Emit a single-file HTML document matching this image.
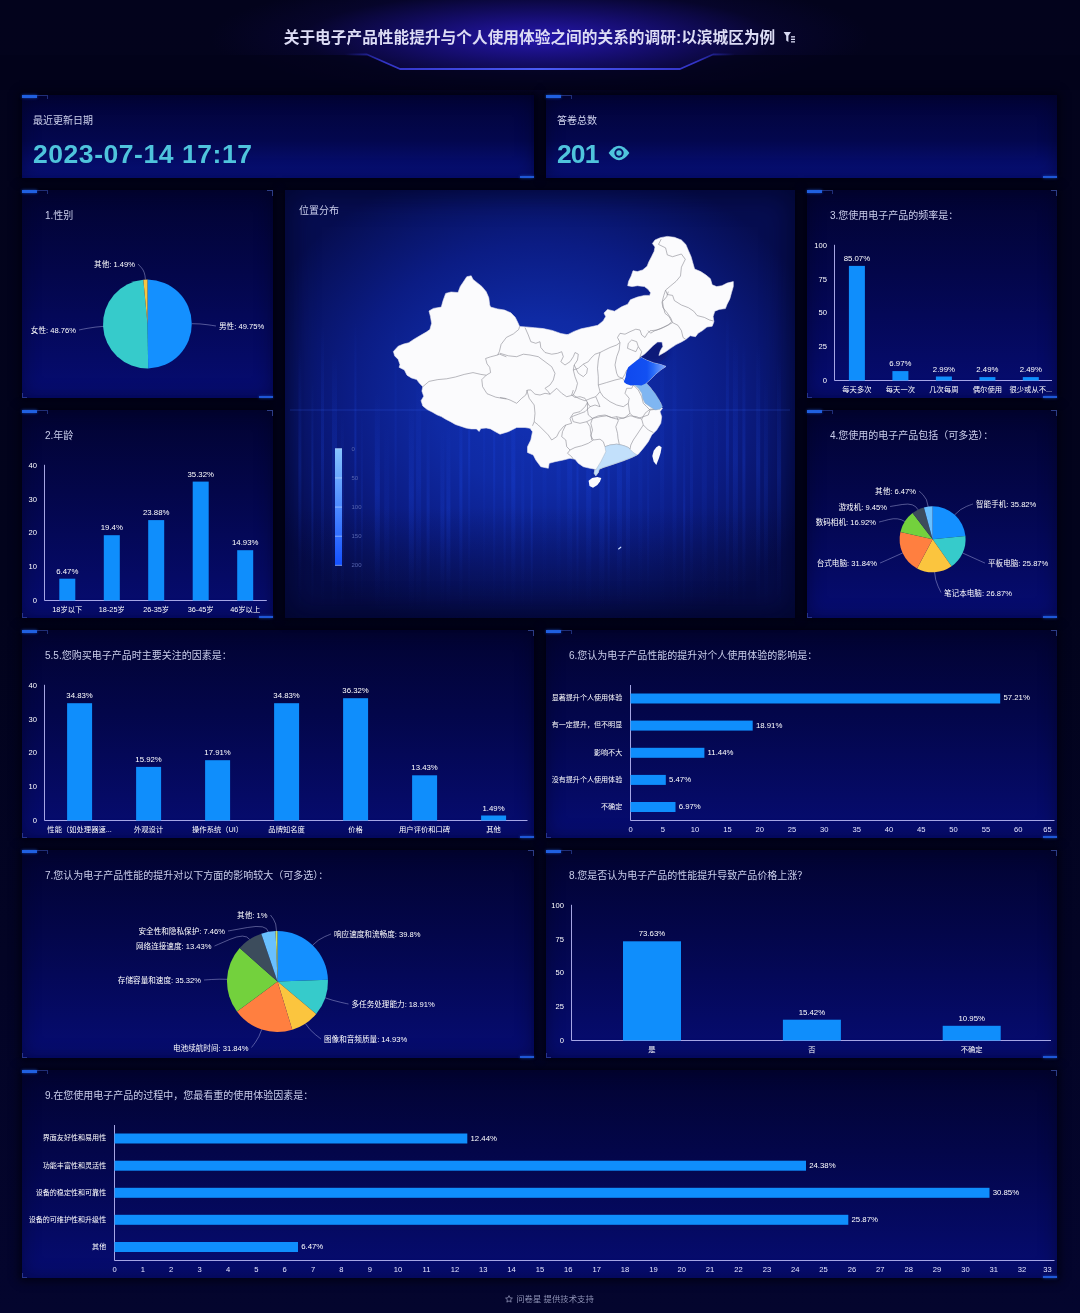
<!DOCTYPE html>
<html lang="zh-CN"><head><meta charset="utf-8"><title>关于电子产品性能提升与个人使用体验之间的关系的调研:以滨城区为例</title>
<style>
*{box-sizing:border-box;margin:0;padding:0}
html,body{width:1080px;height:1313px;overflow:hidden}
body{position:relative;background:#04052a;font-family:"Liberation Sans","Noto Sans CJK SC",sans-serif;color:#fff}
.bg{position:absolute;left:0;top:0;width:1080px;height:1313px;
 background:
  radial-gradient(ellipse 330px 64px at 540px 38px, rgba(40,24,186,.92), rgba(30,18,150,.6) 40%, rgba(16,10,84,.26) 72%, rgba(10,8,60,0) 100%),
  linear-gradient(to bottom,#03031c 0,#02031c 600px,#04052e 1313px)}
.hd{position:absolute;left:0;top:0;width:1080px;height:90px}
.title{position:absolute;left:0;top:24.5px;width:1059px;text-align:center;font-size:15.7px;font-weight:bold;color:#dcdcf4;letter-spacing:0;white-space:nowrap}
.panel{position:absolute;background:linear-gradient(to bottom,#020332 0%,#03064a 40%,#060c72 100%);box-shadow:0 0 8px 3px rgba(0,1,14,.8),inset 0 0 18px rgba(0,0,20,.45)}
.panel.map{background:linear-gradient(to bottom,rgba(4,8,56,0) 74%,rgba(4,8,56,.6) 100%),radial-gradient(ellipse 300px 250px at 50% 50%,#1232b6 0%,#0f2aa4 34%,#0b1c84 64%,#060d50 100%);box-shadow:0 0 8px 3px rgba(0,1,14,.8),inset 0 0 26px 6px rgba(2,4,40,.7)}
.panel.top{background:linear-gradient(to bottom,#020338 0%,#03074e 55%,#07107e 100%)}
.pt{position:absolute;white-space:nowrap;color:#c9cdea;line-height:16px}
.ch{position:absolute;left:0;top:0;overflow:visible}
.ch text{font-family:"Liberation Sans","Noto Sans CJK SC",sans-serif}
.c{position:absolute;display:block}
.c.tl{left:0;top:0;width:15px;height:2.5px;background:#2060e0;box-shadow:0 0 3px #1a48b8}
.c.tl2{left:15px;top:0;width:11px;height:4px;border-top:1px solid rgba(70,100,210,.45);border-right:1px solid rgba(70,100,210,.45)}
.c.tr{right:0;top:0;width:6px;height:6px;border-top:1px solid rgba(90,120,230,.5);border-right:1px solid rgba(90,120,230,.5)}
.c.bl{left:0;bottom:0;width:5px;height:5px;border-left:1px solid rgba(90,120,230,.4);border-bottom:1px solid rgba(90,120,230,.4)}
.c.br{right:0;bottom:0;width:14px;height:2.5px;background:#1f58d8;box-shadow:0 0 3px #1a48b8}
.lab{position:absolute;left:11px;top:17.7px;font-size:10px;color:#d0d4ee;line-height:16px}
.big{position:absolute;left:11px;top:41.7px;font-size:26.5px;font-weight:bold;color:#4fc4dc;line-height:34px;white-space:nowrap}
.foot{position:absolute;left:0;top:1291.5px;width:1099px;text-align:center;font-size:8.4px;color:#8f93b6;line-height:14px}
</style></head><body>
<div class="bg"></div>
<div class="hd">
<svg width="1080" height="90" viewBox="0 0 1080 90" style="position:absolute;left:0;top:0">
<defs><linearGradient id="hl" gradientUnits="userSpaceOnUse" x1="345" x2="735" y1="0" y2="0"><stop offset="0" stop-color="#3038d8" stop-opacity="0"/><stop offset=".1" stop-color="#3a3ce0" stop-opacity=".85"/><stop offset=".5" stop-color="#4a5cf4"/><stop offset=".9" stop-color="#3a3ce0" stop-opacity=".85"/><stop offset="1" stop-color="#3038d8" stop-opacity="0"/></linearGradient></defs>
<path d="M0,55 L0,90 L1080,90 L1080,55 L713,55 L680,69.5 L400,69.5 L367,55 Z" fill="#02031a" opacity=".78"/>
<path d="M345,54.5 H367 L400,69 H680 L713,54.5 H735" fill="none" stroke="url(#hl)" stroke-width="1.8" stroke-linejoin="round"/>
<g fill="#d8daf2"><path d="M783.6,32h7.4l-2.6,3.8v6.2l-2.2,-1.6v-4.6z"/><rect x="791" y="36.2" width="4" height="1.3"/><rect x="791" y="38.7" width="4" height="1.3"/><rect x="791" y="41.2" width="4" height="1.3"/></g>
</svg>
<div class="title">关于电子产品性能提升与个人使用体验之间的关系的调研:以滨城区为例</div>
</div>

<div class="panel top" style="left:22px;top:95px;width:512px;height:83px"><i class="c tl"></i><i class="c tl2"></i><i class="c br"></i><div class="lab">最近更新日期</div><div class="big" style="letter-spacing:.55px">2023-07-14 17:17</div></div>
<div class="panel top" style="left:546px;top:95px;width:511px;height:83px"><i class="c tl"></i><i class="c tl2"></i><i class="c br"></i><div class="lab">答卷总数</div><div class="big" style="letter-spacing:-.9px">201</div><svg style="position:absolute;left:62px;top:48.5px" width="22" height="18" viewBox="0 0 22 18"><path d="M0.6,9 Q11,-5.5 21.4,9 Q11,23.5 0.6,9Z" fill="#4fc4dc"/><circle cx="11" cy="9" r="4.7" fill="#061066"/><circle cx="11" cy="9" r="2.7" fill="#4fc4dc"/></svg></div>
<div class="panel " style="left:22px;top:190px;width:251px;height:208px">
<i class="c tl"></i><i class="c tl2"></i><i class="c tr"></i><i class="c bl"></i><i class="c br"></i>
<div class="pt" style="left:23px;top:17.5px;font-size:10px">1.性别</div>
<svg class="ch" width="251" height="208" viewBox="22 190 251 208"><path d="M147.5,324L147.50,279.50A44.5,44.5 0 0 1 148.20,368.49Z" fill="#1490ff"/>
<path d="M147.5,324L148.20,368.49A44.5,44.5 0 0 1 143.34,279.69Z" fill="#36cbcb"/>
<path d="M147.5,324L143.34,279.69A44.5,44.5 0 0 1 147.50,279.50Z" fill="#fbc53e"/>
<path d="M192.0,323.7Q200.0,323.6 208.0,324.8T216.0,326.0" fill="none" stroke="#c4c6f0" stroke-width="0.7" opacity="0.6"/>
<text x="219.0" y="329.0" font-size="7.6" text-anchor="start" fill="#fff">男性: 49.75%</text>
<path d="M103.1,326.4Q95.1,326.9 87.0,328.4T79.0,330.0" fill="none" stroke="#c4c6f0" stroke-width="0.7" opacity="0.6"/>
<text x="76.0" y="333.0" font-size="7.6" text-anchor="end" fill="#fff">女性: 48.76%</text>
<path d="M145.4,279.5Q145.0,271.6 141.5,267.8T138.0,264.0" fill="none" stroke="#c4c6f0" stroke-width="0.7" opacity="0.6"/>
<text x="135.0" y="267.0" font-size="7.6" text-anchor="end" fill="#fff">其他: 1.49%</text></svg>
</div>
<div class="panel " style="left:22px;top:410px;width:251px;height:208px">
<i class="c tl"></i><i class="c tl2"></i><i class="c tr"></i><i class="c bl"></i><i class="c br"></i>
<div class="pt" style="left:23px;top:17.5px;font-size:10px">2.年龄</div>
<svg class="ch" width="251" height="208" viewBox="22 410 251 208"><path d="M44.5,464.8V600.5H266.8" fill="none" stroke="#b8b8f4" stroke-width="0.9"/>
<text x="37.0" y="602.8" font-size="7.6" text-anchor="end" fill="#fff">0</text>
<text x="37.0" y="569.1" font-size="7.6" text-anchor="end" fill="#fff">10</text>
<text x="37.0" y="535.4" font-size="7.6" text-anchor="end" fill="#fff">20</text>
<text x="37.0" y="501.8" font-size="7.6" text-anchor="end" fill="#fff">30</text>
<text x="37.0" y="468.1" font-size="7.6" text-anchor="end" fill="#fff">40</text>
<rect x="59.3" y="578.7" width="16" height="21.8" fill="#0f8efc"/>
<text x="67.3" y="573.7" font-size="7.8" text-anchor="middle" fill="#fff">6.47%</text>
<text x="67.3" y="612.2" font-size="7.3" text-anchor="middle" fill="#fff">18岁以下</text>
<rect x="103.8" y="535.2" width="16" height="65.3" fill="#0f8efc"/>
<text x="111.8" y="530.2" font-size="7.8" text-anchor="middle" fill="#fff">19.4%</text>
<text x="111.8" y="612.2" font-size="7.3" text-anchor="middle" fill="#fff">18-25岁</text>
<rect x="148.2" y="520.1" width="16" height="80.4" fill="#0f8efc"/>
<text x="156.2" y="515.1" font-size="7.8" text-anchor="middle" fill="#fff">23.88%</text>
<text x="156.2" y="612.2" font-size="7.3" text-anchor="middle" fill="#fff">26-35岁</text>
<rect x="192.7" y="481.6" width="16" height="118.9" fill="#0f8efc"/>
<text x="200.7" y="476.6" font-size="7.8" text-anchor="middle" fill="#fff">35.32%</text>
<text x="200.7" y="612.2" font-size="7.3" text-anchor="middle" fill="#fff">36-45岁</text>
<rect x="237.2" y="550.2" width="16" height="50.3" fill="#0f8efc"/>
<text x="245.2" y="545.2" font-size="7.8" text-anchor="middle" fill="#fff">14.93%</text>
<text x="245.2" y="612.2" font-size="7.3" text-anchor="middle" fill="#fff">46岁以上</text></svg>
</div>
<div class="panel " style="left:807px;top:190px;width:250px;height:208px">
<i class="c tl"></i><i class="c tl2"></i><i class="c tr"></i><i class="c bl"></i><i class="c br"></i>
<div class="pt" style="left:23px;top:17.5px;font-size:10px">3.您使用电子产品的频率是：</div>
<svg class="ch" width="250" height="208" viewBox="807 190 250 208"><path d="M834.5,244.8V380.5H1052" fill="none" stroke="#b8b8f4" stroke-width="0.9"/>
<text x="827.0" y="382.8" font-size="7.6" text-anchor="end" fill="#fff">0</text>
<text x="827.0" y="349.1" font-size="7.6" text-anchor="end" fill="#fff">25</text>
<text x="827.0" y="315.4" font-size="7.6" text-anchor="end" fill="#fff">50</text>
<text x="827.0" y="281.8" font-size="7.6" text-anchor="end" fill="#fff">75</text>
<text x="827.0" y="248.1" font-size="7.6" text-anchor="end" fill="#fff">100</text>
<rect x="848.9" y="265.9" width="16" height="114.6" fill="#0f8efc"/>
<text x="856.9" y="260.9" font-size="7.8" text-anchor="middle" fill="#fff">85.07%</text>
<text x="856.9" y="392.2" font-size="7.3" text-anchor="middle" fill="#fff">每天多次</text>
<rect x="892.4" y="371.1" width="16" height="9.4" fill="#0f8efc"/>
<text x="900.4" y="366.1" font-size="7.8" text-anchor="middle" fill="#fff">6.97%</text>
<text x="900.4" y="392.2" font-size="7.3" text-anchor="middle" fill="#fff">每天一次</text>
<rect x="935.9" y="376.5" width="16" height="4.0" fill="#0f8efc"/>
<text x="943.9" y="371.5" font-size="7.8" text-anchor="middle" fill="#fff">2.99%</text>
<text x="943.9" y="392.2" font-size="7.3" text-anchor="middle" fill="#fff">几次每周</text>
<rect x="979.4" y="377.1" width="16" height="3.4" fill="#0f8efc"/>
<text x="987.4" y="372.1" font-size="7.8" text-anchor="middle" fill="#fff">2.49%</text>
<text x="987.4" y="392.2" font-size="7.3" text-anchor="middle" fill="#fff">偶尔使用</text>
<rect x="1022.8" y="377.1" width="16" height="3.4" fill="#0f8efc"/>
<text x="1030.8" y="372.1" font-size="7.8" text-anchor="middle" fill="#fff">2.49%</text>
<text x="1030.8" y="392.2" font-size="7.3" text-anchor="middle" fill="#fff">很少或从不...</text></svg>
</div>
<div class="panel " style="left:807px;top:410px;width:250px;height:208px">
<i class="c tl"></i><i class="c tl2"></i><i class="c tr"></i><i class="c bl"></i><i class="c br"></i>
<div class="pt" style="left:23px;top:17.5px;font-size:10px">4.您使用的电子产品包括（可多选）：</div>
<svg class="ch" width="250" height="208" viewBox="807 410 250 208"><path d="M932.6,539.3L932.60,506.30A33,33 0 0 1 965.43,535.94Z" fill="#1490ff"/>
<path d="M932.6,539.3L965.43,535.94A33,33 0 0 1 951.56,566.31Z" fill="#36cbcb"/>
<path d="M932.6,539.3L951.56,566.31A33,33 0 0 1 917.08,568.42Z" fill="#fbc53e"/>
<path d="M932.6,539.3L917.08,568.42A33,33 0 0 1 900.43,531.96Z" fill="#ff7f40"/>
<path d="M932.6,539.3L900.43,531.96A33,33 0 0 1 912.56,513.08Z" fill="#73d13d"/>
<path d="M932.6,539.3L912.56,513.08A33,33 0 0 1 923.95,507.45Z" fill="#3c4c5c"/>
<path d="M932.6,539.3L923.95,507.45A33,33 0 0 1 932.60,506.30Z" fill="#69c0ff"/>
<path d="M954.7,514.8Q960.1,508.9 966.5,506.4T973.0,504.0" fill="none" stroke="#c4c6f0" stroke-width="0.7" opacity="0.6"/>
<text x="976.0" y="507.0" font-size="7.6" text-anchor="start" fill="#fff">智能手机: 35.82%</text>
<path d="M962.6,553.0Q969.9,556.3 977.4,559.7T985.0,563.0" fill="none" stroke="#c4c6f0" stroke-width="0.7" opacity="0.6"/>
<text x="988.0" y="566.0" font-size="7.6" text-anchor="start" fill="#fff">平板电脑: 25.87%</text>
<path d="M934.6,572.2Q935.1,580.2 938.1,586.4T941.0,592.5" fill="none" stroke="#c4c6f0" stroke-width="0.7" opacity="0.6"/>
<text x="944.0" y="595.5" font-size="7.6" text-anchor="start" fill="#fff">笔记本电脑: 26.87%</text>
<path d="M902.6,553.0Q895.3,556.3 887.7,559.7T880.0,563.0" fill="none" stroke="#c4c6f0" stroke-width="0.7" opacity="0.6"/>
<text x="877.0" y="566.0" font-size="7.6" text-anchor="end" fill="#fff">台式电脑: 31.84%</text>
<path d="M904.8,521.5Q898.1,517.1 888.6,519.6T879.0,522.0" fill="none" stroke="#c4c6f0" stroke-width="0.7" opacity="0.6"/>
<text x="876.0" y="525.0" font-size="7.6" text-anchor="end" fill="#fff">数码相机: 16.92%</text>
<path d="M918.0,509.7Q914.4,502.5 902.2,504.5T890.0,506.5" fill="none" stroke="#c4c6f0" stroke-width="0.7" opacity="0.6"/>
<text x="887.0" y="509.5" font-size="7.6" text-anchor="end" fill="#fff">游戏机: 9.45%</text>
<path d="M928.2,506.6Q927.2,498.7 923.1,494.8T919.0,491.0" fill="none" stroke="#c4c6f0" stroke-width="0.7" opacity="0.6"/>
<text x="916.0" y="494.0" font-size="7.6" text-anchor="end" fill="#fff">其他: 6.47%</text></svg>
</div>
<div class="panel " style="left:22px;top:630px;width:512px;height:208px">
<i class="c tl"></i><i class="c tl2"></i><i class="c tr"></i><i class="c bl"></i><i class="c br"></i>
<div class="pt" style="left:23px;top:17.5px;font-size:10px">5.5.您购买电子产品时主要关注的因素是：</div>
<svg class="ch" width="512" height="208" viewBox="22 630 512 208"><path d="M44.5,684.8V820.5H527.5" fill="none" stroke="#b8b8f4" stroke-width="0.9"/>
<text x="37.0" y="822.8" font-size="7.6" text-anchor="end" fill="#fff">0</text>
<text x="37.0" y="789.1" font-size="7.6" text-anchor="end" fill="#fff">10</text>
<text x="37.0" y="755.4" font-size="7.6" text-anchor="end" fill="#fff">20</text>
<text x="37.0" y="721.8" font-size="7.6" text-anchor="end" fill="#fff">30</text>
<text x="37.0" y="688.1" font-size="7.6" text-anchor="end" fill="#fff">40</text>
<rect x="67.1" y="703.2" width="25" height="117.3" fill="#0f8efc"/>
<text x="79.6" y="698.2" font-size="7.8" text-anchor="middle" fill="#fff">34.83%</text>
<text x="79.6" y="832.2" font-size="7.3" text-anchor="middle" fill="#fff">性能（如处理器速...</text>
<rect x="136.1" y="766.9" width="25" height="53.6" fill="#0f8efc"/>
<text x="148.6" y="761.9" font-size="7.8" text-anchor="middle" fill="#fff">15.92%</text>
<text x="148.6" y="832.2" font-size="7.3" text-anchor="middle" fill="#fff">外观设计</text>
<rect x="205.1" y="760.2" width="25" height="60.3" fill="#0f8efc"/>
<text x="217.6" y="755.2" font-size="7.8" text-anchor="middle" fill="#fff">17.91%</text>
<text x="217.6" y="832.2" font-size="7.3" text-anchor="middle" fill="#fff">操作系统（UI）</text>
<rect x="274.1" y="703.2" width="25" height="117.3" fill="#0f8efc"/>
<text x="286.6" y="698.2" font-size="7.8" text-anchor="middle" fill="#fff">34.83%</text>
<text x="286.6" y="832.2" font-size="7.3" text-anchor="middle" fill="#fff">品牌知名度</text>
<rect x="343.1" y="698.2" width="25" height="122.3" fill="#0f8efc"/>
<text x="355.6" y="693.2" font-size="7.8" text-anchor="middle" fill="#fff">36.32%</text>
<text x="355.6" y="832.2" font-size="7.3" text-anchor="middle" fill="#fff">价格</text>
<rect x="412.1" y="775.3" width="25" height="45.2" fill="#0f8efc"/>
<text x="424.6" y="770.3" font-size="7.8" text-anchor="middle" fill="#fff">13.43%</text>
<text x="424.6" y="832.2" font-size="7.3" text-anchor="middle" fill="#fff">用户评价和口碑</text>
<rect x="481.1" y="815.5" width="25" height="5.0" fill="#0f8efc"/>
<text x="493.6" y="810.5" font-size="7.8" text-anchor="middle" fill="#fff">1.49%</text>
<text x="493.6" y="832.2" font-size="7.3" text-anchor="middle" fill="#fff">其他</text></svg>
</div>
<div class="panel " style="left:546px;top:630px;width:511px;height:208px">
<i class="c tl"></i><i class="c tl2"></i><i class="c tr"></i><i class="c bl"></i><i class="c br"></i>
<div class="pt" style="left:23px;top:17.5px;font-size:10px">6.您认为电子产品性能的提升对个人使用体验的影响是：</div>
<svg class="ch" width="511" height="208" viewBox="546 630 511 208"><path d="M630.5,685V820.5H1054.5" fill="none" stroke="#b8b8f4" stroke-width="0.9"/>
<text x="630.5" y="832.0" font-size="7.6" text-anchor="middle" fill="#e6e6ff">0</text>
<text x="662.8" y="832.0" font-size="7.6" text-anchor="middle" fill="#e6e6ff">5</text>
<text x="695.1" y="832.0" font-size="7.6" text-anchor="middle" fill="#e6e6ff">10</text>
<text x="727.4" y="832.0" font-size="7.6" text-anchor="middle" fill="#e6e6ff">15</text>
<text x="759.7" y="832.0" font-size="7.6" text-anchor="middle" fill="#e6e6ff">20</text>
<text x="792.0" y="832.0" font-size="7.6" text-anchor="middle" fill="#e6e6ff">25</text>
<text x="824.3" y="832.0" font-size="7.6" text-anchor="middle" fill="#e6e6ff">30</text>
<text x="856.7" y="832.0" font-size="7.6" text-anchor="middle" fill="#e6e6ff">35</text>
<text x="889.0" y="832.0" font-size="7.6" text-anchor="middle" fill="#e6e6ff">40</text>
<text x="921.3" y="832.0" font-size="7.6" text-anchor="middle" fill="#e6e6ff">45</text>
<text x="953.6" y="832.0" font-size="7.6" text-anchor="middle" fill="#e6e6ff">50</text>
<text x="985.9" y="832.0" font-size="7.6" text-anchor="middle" fill="#e6e6ff">55</text>
<text x="1018.2" y="832.0" font-size="7.6" text-anchor="middle" fill="#e6e6ff">60</text>
<text x="1047.5" y="832.0" font-size="7.6" text-anchor="middle" fill="#e6e6ff">65</text>
<rect x="630.5" y="693.5" width="369.7" height="10" fill="#0f8efc"/>
<text x="1003.4" y="700.4" font-size="7.8" text-anchor="start" fill="#fff">57.21%</text>
<text x="622.2" y="700.3" font-size="7.05" text-anchor="end" fill="#fff">显著提升个人使用体验</text>
<rect x="630.5" y="720.6" width="122.2" height="10" fill="#0f8efc"/>
<text x="755.9" y="727.5" font-size="7.8" text-anchor="start" fill="#fff">18.91%</text>
<text x="622.2" y="727.4" font-size="7.05" text-anchor="end" fill="#fff">有一定提升，但不明显</text>
<rect x="630.5" y="747.8" width="73.9" height="10" fill="#0f8efc"/>
<text x="707.6" y="754.6" font-size="7.8" text-anchor="start" fill="#fff">11.44%</text>
<text x="622.2" y="754.5" font-size="7.05" text-anchor="end" fill="#fff">影响不大</text>
<rect x="630.5" y="774.9" width="35.3" height="10" fill="#0f8efc"/>
<text x="669.0" y="781.8" font-size="7.8" text-anchor="start" fill="#fff">5.47%</text>
<text x="622.2" y="781.6" font-size="7.05" text-anchor="end" fill="#fff">没有提升个人使用体验</text>
<rect x="630.5" y="802.0" width="45.0" height="10" fill="#0f8efc"/>
<text x="678.7" y="808.9" font-size="7.8" text-anchor="start" fill="#fff">6.97%</text>
<text x="622.2" y="808.8" font-size="7.05" text-anchor="end" fill="#fff">不确定</text></svg>
</div>
<div class="panel " style="left:22px;top:850px;width:512px;height:208px">
<i class="c tl"></i><i class="c tl2"></i><i class="c tr"></i><i class="c bl"></i><i class="c br"></i>
<div class="pt" style="left:23px;top:17.5px;font-size:10px">7.您认为电子产品性能的提升对以下方面的影响较大（可多选）：</div>
<svg class="ch" width="512" height="208" viewBox="22 850 512 208"><path d="M277.5,981.5L277.50,931.00A50.5,50.5 0 0 1 327.97,979.80Z" fill="#1490ff"/>
<path d="M277.5,981.5L327.97,979.80A50.5,50.5 0 0 1 316.23,1013.90Z" fill="#36cbcb"/>
<path d="M277.5,981.5L316.23,1013.90A50.5,50.5 0 0 1 292.31,1029.78Z" fill="#fbc53e"/>
<path d="M277.5,981.5L292.31,1029.78A50.5,50.5 0 0 1 236.95,1011.61Z" fill="#ff7f40"/>
<path d="M277.5,981.5L236.95,1011.61A50.5,50.5 0 0 1 239.71,948.00Z" fill="#73d13d"/>
<path d="M277.5,981.5L239.71,948.00A50.5,50.5 0 0 1 261.29,933.67Z" fill="#3c4c5c"/>
<path d="M277.5,981.5L261.29,933.67A50.5,50.5 0 0 1 275.55,931.04Z" fill="#69c0ff"/>
<path d="M277.5,981.5L275.55,931.04A50.5,50.5 0 0 1 277.50,931.00Z" fill="#d4e157"/>
<path d="M312.6,945.2Q318.2,939.4 324.6,936.7T331.0,934.0" fill="none" stroke="#c4c6f0" stroke-width="0.7" opacity="0.6"/>
<text x="334.0" y="937.0" font-size="7.6" text-anchor="start" fill="#fff">响应速度和流畅度: 39.8%</text>
<path d="M325.3,997.9Q332.8,1000.5 340.7,1002.3T348.5,1004.0" fill="none" stroke="#c4c6f0" stroke-width="0.7" opacity="0.6"/>
<text x="351.5" y="1007.0" font-size="7.6" text-anchor="start" fill="#fff">多任务处理能力: 18.91%</text>
<path d="M305.4,1023.6Q309.8,1030.2 315.4,1034.6T321.0,1039.0" fill="none" stroke="#c4c6f0" stroke-width="0.7" opacity="0.6"/>
<text x="324.0" y="1042.0" font-size="7.6" text-anchor="start" fill="#fff">图像和音频质量: 14.93%</text>
<path d="M261.7,1029.5Q259.2,1037.1 255.4,1042.3T251.5,1047.5" fill="none" stroke="#c4c6f0" stroke-width="0.7" opacity="0.6"/>
<text x="248.5" y="1050.5" font-size="7.6" text-anchor="end" fill="#fff">电池续航时间: 31.84%</text>
<path d="M227.0,979.3Q219.1,979.0 211.5,979.5T204.0,980.0" fill="none" stroke="#c4c6f0" stroke-width="0.7" opacity="0.6"/>
<text x="201.0" y="983.0" font-size="7.6" text-anchor="end" fill="#fff">存储容量和速度: 35.32%</text>
<path d="M249.6,939.4Q245.1,932.8 229.8,939.4T214.5,946.0" fill="none" stroke="#c4c6f0" stroke-width="0.7" opacity="0.6"/>
<text x="211.5" y="949.0" font-size="7.6" text-anchor="end" fill="#fff">网络连接速度: 13.43%</text>
<path d="M268.3,931.8Q266.9,924.0 247.4,927.5T228.0,931.0" fill="none" stroke="#c4c6f0" stroke-width="0.7" opacity="0.6"/>
<text x="225.0" y="934.0" font-size="7.6" text-anchor="end" fill="#fff">安全性和隐私保护: 7.46%</text>
<path d="M276.5,931.0Q276.4,923.0 273.4,919.0T270.5,915.0" fill="none" stroke="#c4c6f0" stroke-width="0.7" opacity="0.6"/>
<text x="267.5" y="918.0" font-size="7.6" text-anchor="end" fill="#fff">其他: 1%</text></svg>
</div>
<div class="panel " style="left:546px;top:850px;width:511px;height:208px">
<i class="c tl"></i><i class="c tl2"></i><i class="c tr"></i><i class="c bl"></i><i class="c br"></i>
<div class="pt" style="left:23px;top:17.5px;font-size:10px">8.您是否认为电子产品的性能提升导致产品价格上涨？</div>
<svg class="ch" width="511" height="208" viewBox="546 850 511 208"><path d="M571.5,904.8V1040.5H1051" fill="none" stroke="#b8b8f4" stroke-width="0.9"/>
<text x="564.0" y="1042.8" font-size="7.6" text-anchor="end" fill="#fff">0</text>
<text x="564.0" y="1009.1" font-size="7.6" text-anchor="end" fill="#fff">25</text>
<text x="564.0" y="975.4" font-size="7.6" text-anchor="end" fill="#fff">50</text>
<text x="564.0" y="941.8" font-size="7.6" text-anchor="end" fill="#fff">75</text>
<text x="564.0" y="908.1" font-size="7.6" text-anchor="end" fill="#fff">100</text>
<rect x="623.0" y="941.3" width="58" height="99.2" fill="#0f8efc"/>
<text x="652.0" y="936.3" font-size="7.8" text-anchor="middle" fill="#fff">73.63%</text>
<text x="652.0" y="1052.2" font-size="7.3" text-anchor="middle" fill="#fff">是</text>
<rect x="782.9" y="1019.7" width="58" height="20.8" fill="#0f8efc"/>
<text x="811.9" y="1014.7" font-size="7.8" text-anchor="middle" fill="#fff">15.42%</text>
<text x="811.9" y="1052.2" font-size="7.3" text-anchor="middle" fill="#fff">否</text>
<rect x="942.7" y="1025.8" width="58" height="14.7" fill="#0f8efc"/>
<text x="971.7" y="1020.8" font-size="7.8" text-anchor="middle" fill="#fff">10.95%</text>
<text x="971.7" y="1052.2" font-size="7.3" text-anchor="middle" fill="#fff">不确定</text></svg>
</div>
<div class="panel " style="left:22px;top:1070px;width:1035px;height:208px">
<i class="c tl"></i><i class="c tl2"></i><i class="c tr"></i><i class="c bl"></i><i class="c br"></i>
<div class="pt" style="left:23px;top:17.5px;font-size:10px">9.在您使用电子产品的过程中，您最看重的使用体验因素是：</div>
<svg class="ch" width="1035" height="208" viewBox="22 1070 1035 208"><path d="M114.5,1125V1260.5H1054.5" fill="none" stroke="#b8b8f4" stroke-width="0.9"/>
<text x="114.5" y="1272.0" font-size="7.6" text-anchor="middle" fill="#e6e6ff">0</text>
<text x="142.9" y="1272.0" font-size="7.6" text-anchor="middle" fill="#e6e6ff">1</text>
<text x="171.2" y="1272.0" font-size="7.6" text-anchor="middle" fill="#e6e6ff">2</text>
<text x="199.6" y="1272.0" font-size="7.6" text-anchor="middle" fill="#e6e6ff">3</text>
<text x="228.0" y="1272.0" font-size="7.6" text-anchor="middle" fill="#e6e6ff">4</text>
<text x="256.3" y="1272.0" font-size="7.6" text-anchor="middle" fill="#e6e6ff">5</text>
<text x="284.7" y="1272.0" font-size="7.6" text-anchor="middle" fill="#e6e6ff">6</text>
<text x="313.0" y="1272.0" font-size="7.6" text-anchor="middle" fill="#e6e6ff">7</text>
<text x="341.4" y="1272.0" font-size="7.6" text-anchor="middle" fill="#e6e6ff">8</text>
<text x="369.8" y="1272.0" font-size="7.6" text-anchor="middle" fill="#e6e6ff">9</text>
<text x="398.1" y="1272.0" font-size="7.6" text-anchor="middle" fill="#e6e6ff">10</text>
<text x="426.5" y="1272.0" font-size="7.6" text-anchor="middle" fill="#e6e6ff">11</text>
<text x="454.9" y="1272.0" font-size="7.6" text-anchor="middle" fill="#e6e6ff">12</text>
<text x="483.2" y="1272.0" font-size="7.6" text-anchor="middle" fill="#e6e6ff">13</text>
<text x="511.6" y="1272.0" font-size="7.6" text-anchor="middle" fill="#e6e6ff">14</text>
<text x="540.0" y="1272.0" font-size="7.6" text-anchor="middle" fill="#e6e6ff">15</text>
<text x="568.3" y="1272.0" font-size="7.6" text-anchor="middle" fill="#e6e6ff">16</text>
<text x="596.7" y="1272.0" font-size="7.6" text-anchor="middle" fill="#e6e6ff">17</text>
<text x="625.0" y="1272.0" font-size="7.6" text-anchor="middle" fill="#e6e6ff">18</text>
<text x="653.4" y="1272.0" font-size="7.6" text-anchor="middle" fill="#e6e6ff">19</text>
<text x="681.8" y="1272.0" font-size="7.6" text-anchor="middle" fill="#e6e6ff">20</text>
<text x="710.1" y="1272.0" font-size="7.6" text-anchor="middle" fill="#e6e6ff">21</text>
<text x="738.5" y="1272.0" font-size="7.6" text-anchor="middle" fill="#e6e6ff">22</text>
<text x="766.9" y="1272.0" font-size="7.6" text-anchor="middle" fill="#e6e6ff">23</text>
<text x="795.2" y="1272.0" font-size="7.6" text-anchor="middle" fill="#e6e6ff">24</text>
<text x="823.6" y="1272.0" font-size="7.6" text-anchor="middle" fill="#e6e6ff">25</text>
<text x="852.0" y="1272.0" font-size="7.6" text-anchor="middle" fill="#e6e6ff">26</text>
<text x="880.3" y="1272.0" font-size="7.6" text-anchor="middle" fill="#e6e6ff">27</text>
<text x="908.7" y="1272.0" font-size="7.6" text-anchor="middle" fill="#e6e6ff">28</text>
<text x="937.0" y="1272.0" font-size="7.6" text-anchor="middle" fill="#e6e6ff">29</text>
<text x="965.4" y="1272.0" font-size="7.6" text-anchor="middle" fill="#e6e6ff">30</text>
<text x="993.8" y="1272.0" font-size="7.6" text-anchor="middle" fill="#e6e6ff">31</text>
<text x="1022.1" y="1272.0" font-size="7.6" text-anchor="middle" fill="#e6e6ff">32</text>
<text x="1047.5" y="1272.0" font-size="7.6" text-anchor="middle" fill="#e6e6ff">33</text>
<rect x="114.5" y="1133.5" width="352.8" height="10" fill="#0f8efc"/>
<text x="470.5" y="1140.5" font-size="7.8" text-anchor="start" fill="#fff">12.44%</text>
<text x="106.2" y="1140.3" font-size="7.05" text-anchor="end" fill="#fff">界面友好性和易用性</text>
<rect x="114.5" y="1160.7" width="691.5" height="10" fill="#0f8efc"/>
<text x="809.2" y="1167.6" font-size="7.8" text-anchor="start" fill="#fff">24.38%</text>
<text x="106.2" y="1167.5" font-size="7.05" text-anchor="end" fill="#fff">功能丰富性和灵活性</text>
<rect x="114.5" y="1187.8" width="875.0" height="10" fill="#0f8efc"/>
<text x="992.7" y="1194.7" font-size="7.8" text-anchor="start" fill="#fff">30.85%</text>
<text x="106.2" y="1194.5" font-size="7.05" text-anchor="end" fill="#fff">设备的稳定性和可靠性</text>
<rect x="114.5" y="1214.8" width="733.8" height="10" fill="#0f8efc"/>
<text x="851.5" y="1221.8" font-size="7.8" text-anchor="start" fill="#fff">25.87%</text>
<text x="106.2" y="1221.6" font-size="7.05" text-anchor="end" fill="#fff">设备的可维护性和升级性</text>
<rect x="114.5" y="1242.0" width="183.5" height="10" fill="#0f8efc"/>
<text x="301.2" y="1248.9" font-size="7.8" text-anchor="start" fill="#fff">6.47%</text>
<text x="106.2" y="1248.8" font-size="7.05" text-anchor="end" fill="#fff">其他</text></svg>
</div>
<div class="panel map" style="left:285px;top:190px;width:510px;height:428px">
<div class="pt" style="left:14px;top:13.0px;font-size:10px">位置分布</div>
<svg class="ch" width="510" height="428" viewBox="285 190 510 428"><defs><linearGradient id="vm" x1="0" y1="0" x2="0" y2="1"><stop offset="0" stop-color="#86c4ff"/><stop offset="1" stop-color="#1450ff"/></linearGradient><filter id="bl" x="-50%" y="-50%" width="200%" height="200%"><feGaussianBlur stdDeviation="2.5"/></filter><linearGradient id="sd" x1="0" y1="0" x2="1" y2="0"><stop offset="0" stop-color="#0f48ee"/><stop offset=".55" stop-color="#1250f2"/><stop offset=".7" stop-color="#2a6cf8"/><stop offset="1" stop-color="#2a6cf8" stop-opacity=".55"/></linearGradient><linearGradient id="st" x1="0" y1="0" x2="0" y2="1"><stop offset="0" stop-color="#1c4cf0" stop-opacity="0"/><stop offset=".45" stop-color="#1c4cf0" stop-opacity=".3"/><stop offset=".85" stop-color="#1c4cf0" stop-opacity=".04"/><stop offset="1" stop-color="#1c4cf0" stop-opacity="0"/></linearGradient></defs>
<rect x="298.4" y="348" width="3" height="262" fill="url(#st)" opacity="0.58"/>
<rect x="311.4" y="379" width="2" height="231" fill="url(#st)" opacity="0.75"/>
<rect x="321.0" y="325" width="3" height="285" fill="url(#st)" opacity="0.64"/>
<rect x="332.0" y="352" width="5" height="258" fill="url(#st)" opacity="0.72"/>
<rect x="340.8" y="413" width="3" height="197" fill="url(#st)" opacity="0.54"/>
<rect x="354.4" y="321" width="2" height="289" fill="url(#st)" opacity="0.78"/>
<rect x="360.9" y="407" width="2" height="203" fill="url(#st)" opacity="0.40"/>
<rect x="374.8" y="393" width="5" height="217" fill="url(#st)" opacity="0.76"/>
<rect x="384.2" y="425" width="5" height="185" fill="url(#st)" opacity="0.32"/>
<rect x="394.6" y="318" width="2" height="292" fill="url(#st)" opacity="0.37"/>
<rect x="408.8" y="401" width="5" height="209" fill="url(#st)" opacity="0.72"/>
<rect x="416.1" y="375" width="5" height="235" fill="url(#st)" opacity="0.54"/>
<rect x="426.6" y="418" width="3" height="192" fill="url(#st)" opacity="0.63"/>
<rect x="440.4" y="429" width="4" height="181" fill="url(#st)" opacity="0.62"/>
<rect x="446.4" y="425" width="4" height="185" fill="url(#st)" opacity="0.75"/>
<rect x="459.4" y="382" width="3" height="228" fill="url(#st)" opacity="0.79"/>
<rect x="468.2" y="308" width="2" height="302" fill="url(#st)" opacity="0.72"/>
<rect x="483.1" y="345" width="2" height="265" fill="url(#st)" opacity="0.29"/>
<rect x="493.2" y="338" width="2" height="272" fill="url(#st)" opacity="0.67"/>
<rect x="503.6" y="379" width="2" height="231" fill="url(#st)" opacity="0.67"/>
<rect x="511.3" y="372" width="4" height="238" fill="url(#st)" opacity="0.76"/>
<rect x="521.3" y="430" width="3" height="180" fill="url(#st)" opacity="0.42"/>
<rect x="530.7" y="423" width="2" height="187" fill="url(#st)" opacity="0.78"/>
<rect x="542.5" y="320" width="4" height="290" fill="url(#st)" opacity="0.27"/>
<rect x="556.6" y="347" width="4" height="263" fill="url(#st)" opacity="0.33"/>
<rect x="567.2" y="360" width="5" height="250" fill="url(#st)" opacity="0.54"/>
<rect x="576.5" y="381" width="2" height="229" fill="url(#st)" opacity="0.77"/>
<rect x="586.2" y="382" width="5" height="228" fill="url(#st)" opacity="0.64"/>
<rect x="599.4" y="427" width="5" height="183" fill="url(#st)" opacity="0.54"/>
<rect x="607.7" y="402" width="2" height="208" fill="url(#st)" opacity="0.79"/>
<rect x="616.9" y="380" width="5" height="230" fill="url(#st)" opacity="0.60"/>
<rect x="626.0" y="361" width="4" height="249" fill="url(#st)" opacity="0.62"/>
<rect x="638.3" y="396" width="4" height="214" fill="url(#st)" opacity="0.26"/>
<rect x="647.2" y="425" width="2" height="185" fill="url(#st)" opacity="0.39"/>
<rect x="660.1" y="323" width="4" height="287" fill="url(#st)" opacity="0.35"/>
<rect x="672.5" y="339" width="4" height="271" fill="url(#st)" opacity="0.46"/>
<rect x="683.2" y="426" width="2" height="184" fill="url(#st)" opacity="0.63"/>
<rect x="690.0" y="385" width="3" height="225" fill="url(#st)" opacity="0.40"/>
<rect x="701.8" y="384" width="5" height="226" fill="url(#st)" opacity="0.30"/>
<rect x="714.0" y="388" width="4" height="222" fill="url(#st)" opacity="0.37"/>
<rect x="725.9" y="310" width="3" height="300" fill="url(#st)" opacity="0.66"/>
<rect x="732.9" y="335" width="5" height="275" fill="url(#st)" opacity="0.68"/>
<rect x="742.4" y="341" width="3" height="269" fill="url(#st)" opacity="0.71"/>
<rect x="756.2" y="344" width="4" height="266" fill="url(#st)" opacity="0.71"/>
<rect x="763.9" y="377" width="4" height="233" fill="url(#st)" opacity="0.48"/>
<rect x="777.1" y="360" width="4" height="250" fill="url(#st)" opacity="0.60"/>
<rect x="290" y="409.5" width="500" height="1" fill="#3a6cff" opacity=".25"/>
<ellipse cx="653" cy="352" rx="15" ry="11" fill="#08186e" opacity=".75" filter="url(#bl)"/>
<polygon points="393.4,351.5 398.2,346.2 403.5,344.1 408.8,342.7 414.0,339.2 420.2,335.6 426.3,332.1 429.9,329.5 431.6,323.3 430.4,316.3 429.0,311.0 433.4,308.4 441.3,307.1 443.1,300.5 445.7,293.4 451.0,292.0 458.0,292.5 460.3,286.4 463.3,282.0 466.8,276.7 471.2,275.8 473.0,279.4 477.4,282.9 481.8,286.4 486.2,291.7 488.8,297.8 489.7,304.9 490.6,307.1 497.6,308.9 504.6,310.1 510.8,312.8 515.2,317.2 517.8,322.5 519.6,326.5 525.7,326.9 534.5,327.7 543.3,328.6 552.1,330.4 560.9,333.5 568.0,334.8 567.0,335.0 574.1,331.4 581.1,328.8 589.9,327.0 597.8,325.3 603.1,320.9 605.7,316.5 604.0,313.0 607.5,309.4 614.5,311.2 621.6,306.8 627.7,304.2 630.4,299.8 637.4,297.1 644.4,295.4 649.7,295.4 650.6,292.7 648.0,289.2 644.4,286.6 637.4,285.7 632.1,286.6 627.7,285.7 628.6,281.3 631.2,276.0 633.0,270.7 637.4,271.6 642.7,269.9 647.1,266.3 648.8,261.9 651.5,256.7 654.1,251.4 655.0,247.0 652.4,243.5 655.0,240.0 660.3,237.7 667.3,236.4 674.4,237.3 681.4,240.0 685.8,244.4 688.4,250.5 691.1,256.7 692.8,262.8 694.6,269.0 700.7,271.6 706.0,275.1 710.4,278.7 712.2,284.8 716.6,286.6 721.9,285.7 727.1,283.1 733.3,281.6 733.3,286.6 731.5,292.7 729.8,298.9 727.1,304.2 725.4,308.6 719.2,309.4 714.8,311.2 713.1,316.5 713.9,321.8 712.2,326.2 706.9,327.0 702.5,330.6 698.1,333.2 695.5,336.7 690.2,335.8 685.8,339.4 681.4,342.0 676.1,344.6 670.8,348.1 665.6,351.7 661.2,354.3 658.9,355.5 660.3,350.8 662.9,346.4 662.0,342.0 657.6,342.0 653.2,345.5 648.8,349.9 644.4,354.3 640.0,356.9 638.3,359.6 634.8,362.2 630.4,365.7 641.4,357.6 646.7,360.2 653.7,362.9 660.7,364.6 666.0,366.4 660.7,369.9 655.5,374.3 650.2,379.6 645.8,383.6 650.2,387.5 653.7,392.8 657.2,398.1 660.7,403.3 661.6,407.7 662.5,408.3 660.0,411.7 661.7,416.7 660.8,423.3 656.7,430.0 651.7,435.0 648.3,441.7 643.3,448.3 638.3,454.2 631.7,457.5 623.3,460.8 613.3,464.2 603.3,467.5 599.2,469.2 598.3,472.5 595.8,475.8 594.2,473.3 595.0,469.2 590.0,468.3 583.3,466.7 578.3,463.3 575.0,459.2 570.0,458.3 563.3,460.0 555.0,461.7 549.2,463.3 548.3,468.3 540.8,466.7 535.8,460.0 533.3,455.0 527.5,452.5 527.5,446.7 530.8,440.0 532.5,431.7 530.0,428.3 525.0,427.5 516.7,427.5 508.3,431.7 500.0,434.2 495.0,431.5 490.6,428.9 486.2,428.0 480.9,428.5 479.1,431.5 476.5,428.9 471.2,428.9 465.9,428.0 460.6,426.2 455.4,424.5 451.0,421.9 445.7,419.2 441.3,416.6 436.9,414.8 432.5,412.2 427.2,409.5 422.8,406.0 421.1,400.7 423.7,396.3 421.9,391.1 422.8,386.7 419.3,383.1 416.7,379.6 411.4,377.9 407.0,375.2 404.4,370.0 399.1,367.3 400.0,364.7 398.2,359.4 394.7,355.9 393.4,351.5" fill="#fbfbfd" stroke="#e8e8f0" stroke-width="0.6" stroke-linejoin="round"/>
<polygon points="588.6,480.7 592.1,478.1 597.4,476.9 601.3,478.1 600.0,481.6 597.4,485.1 593.0,487.8 589.5,486.0" fill="#fbfbfd"/>
<polygon points="659.0,445.6 661.6,447.3 660.7,452.6 659.0,457.9 656.3,464.9 653.7,461.4 652.3,456.1 653.7,450.8 656.3,447.3" fill="#fbfbfd"/>
<polyline points="422.8,386.7 429.0,381.4 437.8,379.6 446.6,378.8 455.4,377.0 464.2,374.4 473.0,372.6 480.9,374.4 486.2,375.2" fill="none" stroke="#8a8a92" stroke-width="0.6" stroke-linejoin="round"/>
<polyline points="486.2,375.2 490.6,372.6 489.7,367.3 487.0,363.8 485.6,358.5 490.6,356.8 497.6,355.0 499.4,351.5 501.1,344.4 506.4,337.4 513.4,333.9 518.7,329.5 519.6,326.5" fill="none" stroke="#8a8a92" stroke-width="0.6" stroke-linejoin="round"/>
<polyline points="486.2,375.2 481.8,379.6 482.6,386.7 487.0,393.7 495.8,397.2 506.4,399.0" fill="none" stroke="#8a8a92" stroke-width="0.6" stroke-linejoin="round"/>
<polyline points="506.4,356.8 499.4,354.1 497.6,355.0" fill="none" stroke="#8a8a92" stroke-width="0.6" stroke-linejoin="round"/>
<polyline points="525.0,327.5 528.3,335.0 530.8,341.7 535.8,343.3 540.0,341.7 540.8,347.5 545.0,352.5 551.7,354.2 557.5,353.3 561.7,351.7 563.3,356.7 560.8,361.7 565.0,365.0 570.0,361.7 573.3,356.7 575.0,352.5 578.3,354.2 577.5,360.0 574.2,365.0 573.3,370.0 578.3,368.3 583.3,364.2 588.3,361.7 590.8,358.3 595.0,354.2 600.0,352.5 603.3,350.8 610.0,347.5 616.7,345.0 620.0,342.5 617.5,337.5 620.0,333.3 625.0,334.2 630.0,331.7 635.8,329.2 640.0,330.0 641.7,335.0 645.0,337.5 647.5,333.3 650.0,330.8 656.7,330.0 663.3,327.5 668.3,325.0 671.7,321.7 669.2,316.7 665.0,313.3 663.3,306.7 662.5,301.7 666.7,296.7 668.3,291.7" fill="none" stroke="#8a8a92" stroke-width="0.6" stroke-linejoin="round"/>
<polyline points="500.0,353.3 508.3,355.8 516.7,356.7 523.3,354.2 530.0,355.0 538.3,356.7 545.0,361.7 551.7,366.7 555.0,373.3 553.3,380.0 550.0,385.0 545.0,388.3 548.3,391.7 550.0,394.2 545.0,393.3 540.0,395.0 535.0,394.2 530.8,390.0 527.5,390.0 525.8,395.0 521.7,398.3 516.7,403.3 510.0,400.0 505.0,398.3 500.0,397.5" fill="none" stroke="#8a8a92" stroke-width="0.6" stroke-linejoin="round"/>
<polyline points="550.0,394.2 556.7,388.3 561.7,393.3 566.7,396.7 573.3,395.0 578.3,398.3 585.0,400.8 590.8,398.3 595.8,396.7" fill="none" stroke="#8a8a92" stroke-width="0.6" stroke-linejoin="round"/>
<polyline points="586.7,401.7 590.0,406.7 585.0,411.7 578.3,414.2 571.7,416.7 573.3,421.7 580.0,423.3 586.7,421.7 590.0,426.7 590.8,433.3 591.7,440.0" fill="none" stroke="#8a8a92" stroke-width="0.6" stroke-linejoin="round"/>
<polyline points="573.3,370.0 575.0,376.7 577.5,383.3 575.8,390.0 573.3,395.0" fill="none" stroke="#8a8a92" stroke-width="0.6" stroke-linejoin="round"/>
<polyline points="600.0,352.5 598.3,360.0 597.5,368.3 598.3,376.7 598.3,385.0 600.0,391.7 595.8,396.7 600.0,406.7 595.0,405.0 590.0,406.7" fill="none" stroke="#8a8a92" stroke-width="0.6" stroke-linejoin="round"/>
<polyline points="574.2,365.0 578.3,373.3 583.3,376.7 586.7,373.3 587.5,368.3 583.3,364.2" fill="none" stroke="#8a8a92" stroke-width="0.6" stroke-linejoin="round"/>
<polyline points="620.0,342.5 619.2,350.0 616.7,356.7 615.0,365.0 616.7,373.3 618.3,376.7 622.5,378.3" fill="none" stroke="#8a8a92" stroke-width="0.6" stroke-linejoin="round"/>
<polyline points="598.3,385.0 606.7,382.5 615.0,380.0 622.5,378.3 625.0,374.2 626.7,370.0 631.7,365.8 638.3,360.0 640.8,356.7" fill="none" stroke="#8a8a92" stroke-width="0.6" stroke-linejoin="round"/>
<polyline points="628.3,343.3 631.7,340.0 636.7,341.7 638.3,346.7 635.8,351.7 631.7,350.0 627.5,348.3 628.3,343.3" fill="none" stroke="#8a8a92" stroke-width="0.6" stroke-linejoin="round"/>
<polyline points="638.3,346.7 641.7,351.7 640.0,356.7" fill="none" stroke="#8a8a92" stroke-width="0.6" stroke-linejoin="round"/>
<polyline points="600.0,391.7 603.3,396.7 610.0,401.7 616.7,405.0 623.3,406.7 628.3,403.3 629.2,398.3 625.0,393.3 626.7,388.3 631.7,388.3 633.3,385.0 628.3,383.3 624.2,380.8 622.5,378.3" fill="none" stroke="#8a8a92" stroke-width="0.6" stroke-linejoin="round"/>
<polyline points="633.3,385.0 638.3,390.0 641.7,396.7 643.3,403.3 646.7,406.7 650.0,410.0 648.3,415.0 643.3,416.7 638.3,418.3 633.3,416.7 630.0,413.3 629.2,410.0 628.3,403.3" fill="none" stroke="#8a8a92" stroke-width="0.6" stroke-linejoin="round"/>
<polyline points="586.7,421.7 593.3,418.3 600.0,416.7 606.7,415.8 613.3,418.3 618.3,419.2 625.0,417.5 630.0,413.3" fill="none" stroke="#8a8a92" stroke-width="0.6" stroke-linejoin="round"/>
<polyline points="650.0,410.0 656.7,409.2 660.8,407.5" fill="none" stroke="#8a8a92" stroke-width="0.6" stroke-linejoin="round"/>
<polyline points="526.7,390.0 529.2,398.3 534.2,405.0 535.0,413.3 534.2,421.7 532.5,425.8" fill="none" stroke="#8a8a92" stroke-width="0.6" stroke-linejoin="round"/>
<polyline points="534.2,421.7 538.3,425.0 543.3,430.0 548.3,435.0 551.7,440.0 556.7,436.7 559.2,431.7 563.3,426.7 565.8,425.0 571.7,423.3 570.0,418.3 573.3,413.3 580.0,411.7 585.0,406.7 587.5,402.5 585.0,398.3 580.0,396.7 575.0,397.5 571.7,395.0 573.3,390.0" fill="none" stroke="#8a8a92" stroke-width="0.6" stroke-linejoin="round"/>
<polyline points="565.8,425.0 562.5,431.7 561.7,436.7 565.8,440.0 566.7,446.7 570.0,450.0 575.0,447.5 581.7,445.8 588.3,443.3 593.3,440.0 590.8,435.8 592.5,430.0 590.8,423.3 592.5,418.3 588.3,415.0 587.5,410.0 587.5,402.5" fill="none" stroke="#8a8a92" stroke-width="0.6" stroke-linejoin="round"/>
<polyline points="593.3,440.0 600.0,439.2 603.3,441.7 605.0,446.7 610.0,445.0 616.7,444.2 619.3,444.5 618.0,438.3 617.5,433.3 615.8,426.7 618.3,420.8 616.7,416.7" fill="none" stroke="#8a8a92" stroke-width="0.6" stroke-linejoin="round"/>
<polyline points="592.5,418.3 598.3,415.8 605.0,415.0 611.7,417.5 616.7,416.7 623.3,418.3 630.0,415.8 636.7,416.7 641.7,419.2 643.3,425.0 640.0,430.0 636.7,435.0 633.3,440.0 630.8,445.0 630.0,449.2" fill="none" stroke="#8a8a92" stroke-width="0.6" stroke-linejoin="round"/>
<polyline points="619.3,444.5 624.2,445.8 628.3,447.5 630.0,449.2" fill="none" stroke="#8a8a92" stroke-width="0.6" stroke-linejoin="round"/>
<polyline points="643.3,425.0 648.3,430.0 653.3,432.5" fill="none" stroke="#8a8a92" stroke-width="0.6" stroke-linejoin="round"/>
<polyline points="641.7,419.2 645.0,413.3 650.0,409.2 655.8,409.2 660.8,407.5" fill="none" stroke="#8a8a92" stroke-width="0.6" stroke-linejoin="round"/>
<polyline points="570.0,450.0 567.5,453.3 571.7,456.7 573.3,459.2" fill="none" stroke="#8a8a92" stroke-width="0.6" stroke-linejoin="round"/>
<polyline points="661.2,239.1 658.5,244.4 665.6,247.9 667.3,254.9 672.6,256.7 681.4,254.0 685.3,259.3 681.4,267.2 680.5,276.0 676.1,281.3 670.8,285.7 665.6,290.1 663.8,295.4 662.0,302.4 662.9,307.7 667.3,313.0 670.8,318.2 672.6,322.6 667.3,325.3 660.3,328.8 655.0,330.6 650.6,333.2 648.0,330.6" fill="none" stroke="#8a8a92" stroke-width="0.6" stroke-linejoin="round"/>
<polyline points="665.6,290.1 667.3,294.5 672.6,295.4 674.4,300.6 681.4,305.0 688.4,307.7 693.7,311.2 697.2,315.6 704.3,317.4 709.5,320.0 713.1,320.9" fill="none" stroke="#8a8a92" stroke-width="0.6" stroke-linejoin="round"/>
<polyline points="672.6,322.6 677.9,325.3 681.4,330.6 683.1,337.6 685.8,339.4" fill="none" stroke="#8a8a92" stroke-width="0.6" stroke-linejoin="round"/>
<polygon points="605.0,446.7 610.0,445.0 616.7,444.2 620.0,444.8 624.2,445.8 628.3,447.5 630.0,449.2 633.3,452.5 637.0,455.0 631.7,457.5 623.3,460.8 613.3,464.2 603.3,467.5 599.2,469.2 598.3,472.5 595.8,475.8 594.2,473.3 595.0,469.2 595.8,470.0 598.3,465.8 600.8,461.7 603.3,456.7 605.8,451.7" fill="#c2e0fb" stroke="#9ab" stroke-width=".4"/>
<polygon points="633.3,384.2 640.0,384.7 646.7,383.3 650.8,388.3 655.0,393.3 659.2,400.0 662.5,406.7 660.0,409.2 655.0,410.0 650.0,406.7 645.0,403.3 642.5,398.3 641.7,393.3 638.3,388.3" fill="#7fb6f2" stroke="#9ab" stroke-width=".4"/>
<polygon points="641.4,357.6 646.7,360.2 653.7,362.9 660.7,364.6 666.0,366.4 660.7,369.9 655.5,374.3 650.2,379.6 645.8,383.6 641.4,385.4 636.1,384.9 630.8,385.4 626.4,384.0 623.8,381.9 625.6,376.9 626.4,371.7 628.2,367.3 632.6,363.8 637.0,360.2" fill="url(#sd)"/>
<path d="M618.6,549 l2.2,-1.8" stroke="#cfe0ff" stroke-width="1.1" stroke-linecap="round"/>
<rect x="335" y="448.5" width="7" height="117" fill="url(#vm)"/>
<text x="351.5" y="451.0" font-size="6" text-anchor="start" fill="#5664ae">0</text>
<rect x="335" y="448.5" width="7" height=".7" fill="#cfe4ff" opacity=".75"/>
<text x="351.5" y="480.1" font-size="6" text-anchor="start" fill="#5664ae">50</text>
<rect x="335" y="477.6" width="7" height=".7" fill="#cfe4ff" opacity=".75"/>
<text x="351.5" y="509.2" font-size="6" text-anchor="start" fill="#5664ae">100</text>
<rect x="335" y="506.7" width="7" height=".7" fill="#cfe4ff" opacity=".75"/>
<text x="351.5" y="538.3" font-size="6" text-anchor="start" fill="#5664ae">150</text>
<rect x="335" y="535.8" width="7" height=".7" fill="#cfe4ff" opacity=".75"/>
<text x="351.5" y="567.4" font-size="6" text-anchor="start" fill="#5664ae">200</text>
<rect x="335" y="564.9" width="7" height=".7" fill="#cfe4ff" opacity=".75"/></svg>
</div>
<div class="foot"><svg width="8" height="8" viewBox="0 0 8 8" style="vertical-align:-1px;margin-right:3px"><polygon points="4.00,0.60 5.00,2.82 7.42,3.09 5.62,4.73 6.12,7.11 4.00,5.90 1.88,7.11 2.38,4.73 0.58,3.09 3.00,2.82" fill="none" stroke="#8f93b6" stroke-width=".8" stroke-linejoin="round"/></svg>问卷星 提供技术支持</div>
</body></html>
